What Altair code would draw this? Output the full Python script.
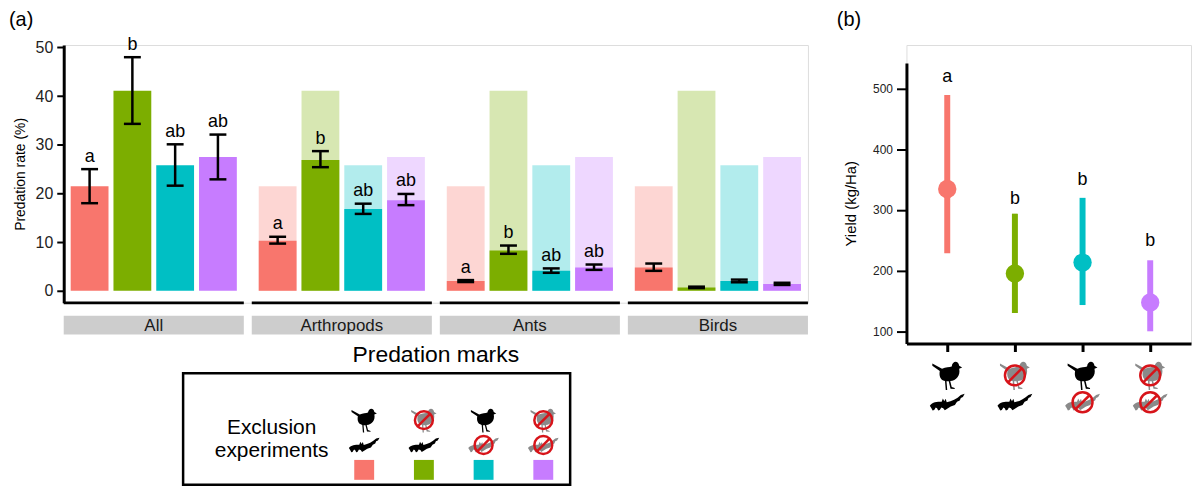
import altair as alt
import pandas as pd

# ---------------- data ----------------
groups = ["All", "Arthropods", "Ants", "Birds"]
treatments = ["Control", "Bird exclusion", "Bat exclusion", "Full exclusion"]
colors = ["#F8766D", "#7CAE00", "#00BFC4", "#C77CFF"]

mean_all = [21.5, 41.1, 25.8, 27.5]
lo_all = [18.0, 34.3, 21.6, 22.9]
hi_all = [25.0, 48.0, 30.1, 32.1]
let_all = ["a", "b", "ab", "ab"]

mean_arth = [10.3, 26.9, 16.8, 18.6]
lo_arth = [9.7, 25.4, 15.8, 17.6]
hi_arth = [11.1, 28.7, 17.9, 19.9]
let_arth = ["a", "b", "ab", "ab"]

mean_ants = [2.0, 8.3, 4.1, 4.8]
lo_ants = [1.8, 7.6, 3.7, 4.3]
hi_ants = [2.2, 9.3, 4.6, 5.4]
let_ants = ["a", "b", "ab", "ab"]

mean_birds = [4.8, 0.7, 2.0, 1.4]
lo_birds = [4.1, 0.55, 1.75, 1.2]
hi_birds = [5.6, 0.85, 2.3, 1.65]
let_birds = ["", "", "", ""]

yield_mean = [334.5, 195.5, 213.5, 148.0]
yield_lo = [229.0, 130.6, 143.7, 100.5]
yield_hi = [489.0, 294.0, 320.0, 217.3]
yield_letter = ["a", "b", "b", "b"]
yield_letter_pos = [519.0, 318.0, 349.0, 249.0]

bird_status = ["present", "excluded", "present", "excluded"]
bat_status = ["present", "present", "excluded", "excluded"]

# ---------------- tables ----------------
rows = []
for g, m, lo, hi, lt in [
    ("All", mean_all, lo_all, hi_all, let_all),
    ("Arthropods", mean_arth, lo_arth, hi_arth, let_arth),
    ("Ants", mean_ants, lo_ants, hi_ants, let_ants),
    ("Birds", mean_birds, lo_birds, hi_birds, let_birds),
]:
    for i, t in enumerate(treatments):
        rows.append(dict(group=g, treat=t, mean=m[i], lo=lo[i], hi=hi[i], letter=lt[i]))
df_a = pd.DataFrame(rows)

bg_rows = []
for g in groups[1:]:
    for i, t in enumerate(treatments):
        bg_rows.append(dict(group=g, treat=t, mean=mean_all[i]))
df_bg = pd.DataFrame(bg_rows)

df_groups = pd.DataFrame({"group": groups})
df_b = pd.DataFrame(dict(treat=treatments, mean=yield_mean, lo=yield_lo, hi=yield_hi,
                         letter=yield_letter, lpos=yield_letter_pos))
df_icons = pd.DataFrame(dict(treat=treatments, bird=bird_status, bat=bat_status))
dummy = pd.DataFrame({"d": [0]})

FONT = "Liberation Sans"
RED = "#D7141A"
GRAY = "#8A8A8A"
BIRD = ("M -1 -0.8 L -0.35 -0.45 C -0.1 -0.55 0.15 -0.55 0.3 -0.6 "
        "C 0.35 -1 0.75 -1 0.8 -0.65 L 1 -0.52 L 0.8 -0.45 "
        "C 0.9 0 0.6 0.35 0.2 0.38 L 0.3 0.78 L 0.5 0.85 L 0.5 0.92 L 0.22 0.9 L 0.1 0.4 "
        "L -0.05 0.4 L 0 0.98 L -0.1 0.98 L -0.15 0.38 "
        "C -0.5 0.3 -0.55 0 -0.5 -0.3 L -1 -0.65 Z")
BAT = ("M -1 0.2 C -0.85 0 -0.6 -0.02 -0.32 -0.02 L -0.25 -0.22 L -0.17 -0.06 "
       "L -0.09 -0.2 L -0.03 0 C 0.25 -0.05 0.55 -0.2 0.78 -0.42 L 1 -0.48 L 0.9 -0.3 "
       "L 0.78 -0.24 L 0.72 -0.1 L 0.56 -0.02 L 0.44 0.16 L 0.2 0.24 L 0.02 0.36 L -0.14 0.46 "
       "Q -0.22 0.3 -0.34 0.3 Q -0.42 0.48 -0.52 0.48 Q -0.58 0.3 -0.66 0.3 "
       "Q -0.74 0.48 -0.84 0.48 Q -0.9 0.34 -1 0.2 Z")
SLASH = "M 0.7 -0.7 L -0.7 0.7"

color_scale = alt.Scale(domain=treatments, range=colors)
col = alt.Color("treat:N", scale=color_scale, legend=None)


def icon_layers(xenc, y_bird, y_bat, bird_size, bat_size, circ_size):
    base = alt.Chart(df_icons)
    layers = []
    for animal, shape, yy, sz in [("bird", BIRD, y_bird, bird_size), ("bat", BAT, y_bat, bat_size)]:
        layers.append(base.mark_point(shape=shape, filled=True, size=sz, opacity=1, strokeWidth=0).encode(
            x=xenc, y=alt.value(yy),
            fill=alt.condition(f"datum.{animal} == 'present'", alt.value("black"), alt.value(GRAY))))
        ex = base.transform_filter(f"datum.{animal} == 'excluded'")
        layers.append(ex.mark_point(shape="circle", filled=False, size=circ_size, color=RED,
                                    strokeWidth=2.5, opacity=1).encode(x=xenc, y=alt.value(yy)))
        layers.append(ex.mark_point(shape=SLASH, filled=False, size=circ_size, color=RED,
                                    strokeWidth=2.5, opacity=1).encode(x=xenc, y=alt.value(yy)))
    return layers


# ---------------- panel (a) ----------------
W_A, H_A = 748, 259
xa = alt.X("group:N", scale=alt.Scale(domain=groups, paddingInner=8 / 189, paddingOuter=0), axis=None)
xo = alt.XOffset("treat:N", scale=alt.Scale(domain=treatments, paddingInner=0.116, paddingOuter=0.163))
ya_scale = alt.Scale(domain=[-2.45, 50.5], nice=False, zero=False)
ya_axis = alt.Axis(values=[0, 10, 20, 30, 40, 50], grid=False, labelFontSize=16, labelColor="#222222",
                   labelPadding=4, tickSize=7, tickWidth=2, tickColor="black", domainColor="black",
                   domainWidth=3, titleFontSize=14, titleFontWeight="normal", titleColor="black",
                   titlePadding=8)


def ya(field):
    return alt.Y(f"{field}:Q", scale=ya_scale, axis=ya_axis, title="Predation rate (%)")


bg = alt.Chart(df_bg).mark_bar(opacity=0.3).encode(x=xa, xOffset=xo, y=ya("mean"), color=col)
bars = alt.Chart(df_a).mark_bar(opacity=1).encode(x=xa, xOffset=xo, y=ya("mean"), color=col)
err = alt.Chart(df_a).mark_rule(color="black", strokeWidth=2.5).encode(
    x=xa, xOffset=xo, y=ya("lo"), y2="hi")
cap_lo = alt.Chart(df_a).mark_tick(color="black", thickness=2.5, size=17, opacity=1).encode(
    x=xa, xOffset=xo, y=ya("lo"))
cap_hi = alt.Chart(df_a).mark_tick(color="black", thickness=2.5, size=17, opacity=1).encode(
    x=xa, xOffset=xo, y=ya("hi"))
letters = alt.Chart(df_a).mark_text(dy=-12.5, fontSize=18, font=FONT, color="black").encode(
    x=xa, xOffset=xo, y=ya("hi"), text="letter:N")
axis_seg = alt.Chart(df_groups).mark_rect(color="black").encode(
    x=xa, y=alt.value(257.8), y2=alt.value(260.6))
strip = alt.Chart(df_groups).mark_rect(color="#CDCDCD").encode(
    x=xa, y=alt.value(272), y2=alt.value(291))
strip_txt = alt.Chart(df_groups).mark_text(fontSize=17, font=FONT, color="#1A1A1A").encode(
    x=xa, y=alt.value(282), text="group:N")
lab_a = alt.Chart(dummy).mark_text(text="(a)", fontSize=20, font=FONT, align="left", baseline="top",
                                   color="black").encode(x=alt.value(-55), y=alt.value(-35))
lab_pm = alt.Chart(dummy).mark_text(text="Predation marks", fontSize=23, font=FONT, color="black").encode(
    x=alt.value(374), y=alt.value(312))
box = alt.Chart(dummy).mark_rect(fill="white", stroke="black", strokeWidth=2.5).encode(
    x=alt.value(120), x2=alt.value(509), y=alt.value(330), y2=alt.value(442))
ex1 = alt.Chart(dummy).mark_text(text="Exclusion", fontSize=21, font=FONT, color="black").encode(
    x=alt.value(209), y=alt.value(385))
ex2 = alt.Chart(dummy).mark_text(text="experiments", fontSize=21, font=FONT, color="black").encode(
    x=alt.value(209), y=alt.value(408))

main_a = alt.layer(bg, bars, err, cap_lo, cap_hi, letters, axis_seg, strip, strip_txt,
                   lab_a, lab_pm, box, ex1, ex2)

xl = alt.X("treat:N", scale=alt.Scale(type="point", domain=treatments, range=[302, 482], padding=0),
           axis=None)
leg_sq = alt.Chart(df_icons).mark_point(shape="square", filled=True, size=400, opacity=1).encode(
    x=xl, y=alt.value(427), color=col)
legend_a = alt.layer(leg_sq, *icon_layers(xl, 377, 402, 650, 950, 324))

panel_a = alt.layer(main_a, legend_a).resolve_scale(x="independent").properties(width=W_A, height=H_A)

# ---------------- panel (b) ----------------
W_B, H_B = 286, 300
xb = alt.X("treat:N", scale=alt.Scale(type="point", domain=treatments, padding=0.603),
           axis=alt.Axis(labels=False, title=None, grid=False, tickSize=8, tickWidth=3,
                         tickColor="black", domainColor="black", domainWidth=3))
yb_scale = alt.Scale(domain=[80.4, 541.9], range=[300, 18], nice=False, zero=False)
yb_axis = alt.Axis(values=[100, 200, 300, 400, 500], grid=False, labelFontSize=12, labelColor="#222222",
                   labelPadding=4, tickSize=10, tickWidth=2, tickColor="black", domainColor="black",
                   domainWidth=3, titleFontSize=15, titleFontWeight="normal", titleColor="black",
                   titlePadding=14)


def yb(field):
    return alt.Y(f"{field}:Q", scale=yb_scale, axis=yb_axis, title="Yield (kg/Ha)")


b_rule = alt.Chart(df_b).mark_rule(strokeWidth=6).encode(x=xb, y=yb("lo"), y2="hi", color=col)
b_pt = alt.Chart(df_b).mark_circle(size=340, opacity=1).encode(x=xb, y=yb("mean"), color=col)
b_let = alt.Chart(df_b).mark_text(fontSize=18, font=FONT, color="black").encode(
    x=xb, y=yb("lpos"), text="letter:N")
lab_b = alt.Chart(dummy).mark_text(text="(b)", fontSize=20, font=FONT, align="left", baseline="top",
                                   color="black").encode(x=alt.value(-70), y=alt.value(-35))

panel_b = alt.layer(b_rule, b_pt, b_let, *icon_layers(xb, 332, 359, 900, 1225, 400), lab_b).properties(
    width=W_B, height=H_B)

chart = alt.hconcat(panel_a, panel_b, spacing=99, bounds="flush").properties(padding=0).configure_view(
    stroke=None).configure(font=FONT).configure_axis(labelFont=FONT, titleFont=FONT)

chart.save("out.html", embed_options={"renderer": "svg", "actions": False})
